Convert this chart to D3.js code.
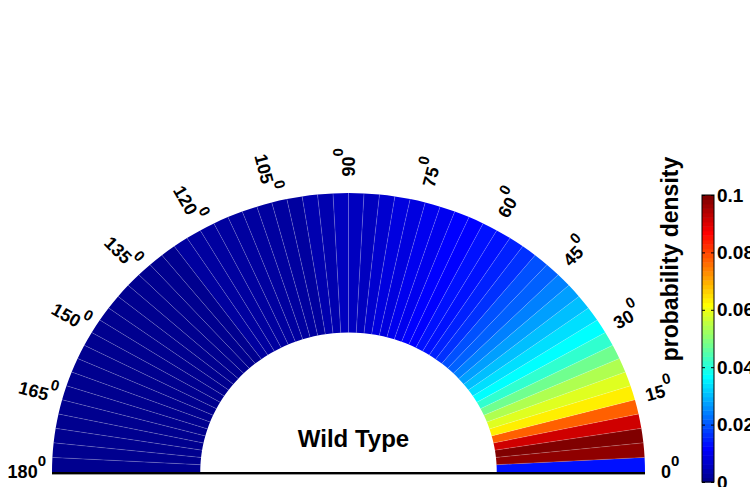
<!DOCTYPE html>
<html>
<head>
<meta charset="utf-8">
<script src="https://cdn.jsdelivr.net/npm/d3@7"></script>
<style>
  body { margin: 0; background: #fff; }
  svg { display: block; }
  text { font-family: "Liberation Sans", Arial, Helvetica, sans-serif; font-weight: bold; fill: #000; }
</style>
</head>
<body>
<svg id="chart" width="750" height="487"></svg>
<script>
// Angular bins (start angle of each 3-degree bin, degrees)
const binStart = [
  0, 3, 6, 9, 12, 15, 18, 21, 24, 27,
  30, 33, 36, 39, 42, 45, 48, 51, 54, 57,
  60, 63, 66, 69, 72, 75, 78, 81, 84, 87,
  90, 93, 96, 99, 102, 105, 108, 111, 114, 117,
  120, 123, 126, 129, 132, 135, 138, 141, 144, 147,
  150, 153, 156, 159, 162, 165, 168, 171, 174, 177
];
const binWidth = 3;

// Probability density per bin
const density = [
  0.014, 0.098, 0.100, 0.092, 0.077, 0.063, 0.058, 0.054, 0.047, 0.041,
  0.036, 0.033, 0.030, 0.027, 0.024, 0.021, 0.019, 0.017, 0.015, 0.014,
  0.013, 0.012, 0.011, 0.010, 0.010, 0.009, 0.008, 0.007, 0.006, 0.006,
  0.005, 0.004, 0.004, 0.003, 0.003, 0.003, 0.002, 0.002, 0.002, 0.002,
  0.002, 0.002, 0.001, 0.001, 0.001, 0.001, 0.001, 0.001, 0.001, 0.001,
  0.001, 0.001, 0.001, 0.001, 0.001, 0.001, 0.001, 0.001, 0.001, 0.001
];

// Angle tick marks (degrees)
const angleTicks = [0, 15, 30, 45, 60, 75, 90, 105, 120, 135, 150, 165, 180];

// Colour bar ticks
const colorTicks = [0, 0.02, 0.04, 0.06, 0.08, 0.1];
const colorTickLabels = ["0", "0.02", "0.04", "0.06", "0.08", "0.1"];

const title = "Wild Type";
const colorbarTitle = "probability density";

// ---- layout ----
const cx = 348.5, cy = 472;
const rx = 296.5, ry = 279;           // axes are stretched vertically
const yStretch = ry / rx;

const svg = d3.select("#chart");

// MATLAB-style jet colormap with 64 discrete levels
function jetColor(t) {
  const c = v => Math.max(0, Math.min(1, v));
  const r = c(Math.min(4 * t - 1.5, -4 * t + 4.5));
  const g = c(Math.min(4 * t - 0.5, -4 * t + 3.5));
  const b = c(Math.min(4 * t + 0.5, -4 * t + 2.5));
  return d3.rgb(r * 255, g * 255, b * 255).formatHex();
}
const nLevels = 64;
const jet64 = d3.range(nLevels).map(i => jetColor((i + 1) / nLevels));
const color = d3.scaleQuantize().domain([0, 0.1]).range(jet64);

// polar scales
const radius = d3.scaleLinear().domain([0, 1]).range([0, rx]);
const angle = d3.scaleLinear().domain([0, 180]).range([Math.PI / 2, -Math.PI / 2]);

const arc = d3.arc()
  .innerRadius(radius(0.5))
  .outerRadius(radius(1))
  .startAngle(d => angle(d.a + binWidth))
  .endAngle(d => angle(d.a));

const bins = binStart.map((a, i) => ({ a, v: density[i] }));

const rose = svg.append("g")
  .attr("transform", `translate(${cx},${cy}) scale(1,${yStretch})`);

rose.selectAll("path.bin")
  .data(bins)
  .join("path")
  .attr("class", "bin")
  .attr("d", arc)
  .attr("fill", d => color(d.v));

// faint light seams between neighbouring wedges
rose.selectAll("line.seam")
  .data(binStart.slice(1))
  .join("line")
  .attr("class", "seam")
  .attr("x1", a => radius(0.5) * Math.sin(angle(a)))
  .attr("y1", a => -radius(0.5) * Math.cos(angle(a)))
  .attr("x2", a => radius(1) * Math.sin(angle(a)))
  .attr("y2", a => -radius(1) * Math.cos(angle(a)))
  .attr("stroke", "#fff")
  .attr("stroke-opacity", 0.28)
  .attr("stroke-width", 0.7);

// baseline of the half-disc
svg.append("line")
  .attr("x1", cx - rx).attr("x2", cx + rx)
  .attr("y1", cy + 1).attr("y2", cy + 1)
  .attr("stroke", "#000").attr("stroke-width", 2);
svg.append("line")
  .attr("x1", cx - rx).attr("x2", cx + rx)
  .attr("y1", cy + 2.5).attr("y2", cy + 2.5)
  .attr("stroke", "#999").attr("stroke-width", 1);

// angle labels, written along the radial direction
const labelRx = 1.085, labelRy = 1.11;
angleTicks.forEach(deg => {
  const t = deg * Math.PI / 180;
  const x = cx + rx * labelRx * Math.cos(t);
  const y = cy - ry * labelRy * Math.sin(t);
  const rot = deg <= 90 ? -deg : 180 - deg;
  const txt = svg.append("text")
    .attr("transform", `translate(${x},${y}) rotate(${rot})`)
    .attr("text-anchor", "middle")
    .attr("font-size", 18);
  txt.append("tspan").attr("dy", "0.35em").text(deg);
  txt.append("tspan").attr("dy", -12).attr("font-size", 15).text("0");
});

// title inside the hole
svg.append("text")
  .attr("x", 353.5).attr("y", 447)
  .attr("text-anchor", "middle")
  .attr("font-size", 24)
  .text(title);

// ---- colour bar ----
const cbX = 702, cbW = 12, cbTop = 195, cbBottom = 482;
const cbScale = d3.scaleLinear().domain([0, 0.1]).range([cbBottom, cbTop]);
const cb = svg.append("g");
cb.selectAll("rect")
  .data(jet64)
  .join("rect")
  .attr("x", cbX)
  .attr("width", cbW)
  .attr("y", (d, i) => cbScale((i + 1) / nLevels * 0.1))
  .attr("height", (d, i) => cbScale(i / nLevels * 0.1) - cbScale((i + 1) / nLevels * 0.1) + 0.5)
  .attr("fill", d => d);
cb.append("rect")
  .attr("x", cbX).attr("y", cbTop)
  .attr("width", cbW).attr("height", cbBottom - cbTop)
  .attr("fill", "none").attr("stroke", "#000").attr("stroke-width", 1);

const axR = svg.append("g")
  .attr("transform", `translate(${cbX + cbW},0)`)
  .call(d3.axisRight(cbScale).tickValues(colorTicks)
    .tickFormat((d, i) => colorTickLabels[i]).tickSize(-3).tickPadding(3));
const axL = svg.append("g")
  .attr("transform", `translate(${cbX},0)`)
  .call(d3.axisLeft(cbScale).tickValues(colorTicks).tickFormat("").tickSize(-3));
[axR, axL].forEach(g => {
  g.select(".domain").remove();
  g.attr("font-family", null).attr("font-size", null);
  g.selectAll("line").attr("stroke", "#000");
});
axR.selectAll("text").attr("font-size", 19).attr("fill", "#000");

svg.append("text")
  .attr("transform", `translate(678,259) rotate(-90)`)
  .attr("text-anchor", "middle")
  .attr("font-size", 23)
  .text(colorbarTitle);
</script>
</body>
</html>
